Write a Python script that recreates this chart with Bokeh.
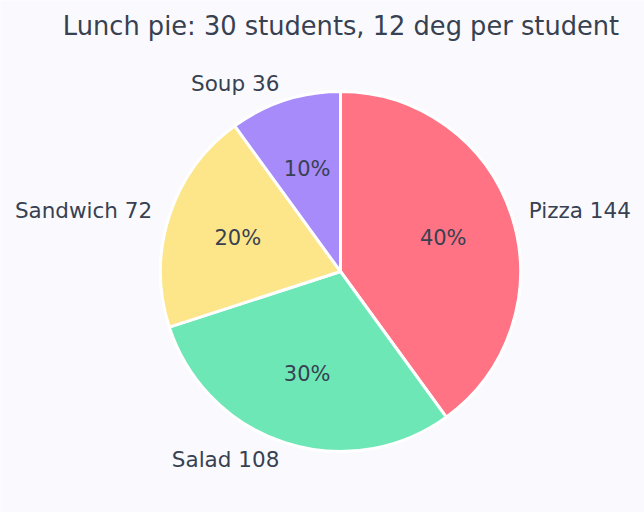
import math
from bokeh.plotting import figure
from bokeh.models import Range1d, ColumnDataSource
from bokeh.core.properties import value
from bokeh.embed import file_html
from bokeh.resources import INLINE

# Lunch choices (students * 12 degrees each)
categories = ["Pizza", "Salad", "Sandwich", "Soup"]
degrees = [144, 108, 72, 36]
colors = ["#FF7385", "#6EE7B7", "#FDE68A", "#A78BFA"]

W, H = 644, 512
BG = "#FAFAFE"
TEXT = "#374151"
FONT = "DejaVu Sans"

p = figure(width=W, height=H, output_backend="svg", toolbar_location=None,
           x_range=Range1d(0, W), y_range=Range1d(0, H), min_border=0,
           background_fill_color=BG, border_fill_color=BG)
p.axis.visible = False
p.grid.visible = False
p.outline_line_color = None

cx, cy, r = 340, H - 271, 180
total = sum(degrees)

starts, ends, mids = [], [], []
acc = 0
for v in degrees:
    a0 = 90 - acc * 360 / total
    a1 = a0 - v * 360 / total
    starts.append(math.radians(a0))
    ends.append(math.radians(a1))
    mids.append(math.radians((a0 + a1) / 2))
    acc += v

src = ColumnDataSource(dict(start=starts, end=ends, color=colors))
p.wedge(x=cx, y=cy, radius=r, start_angle="start", end_angle="end",
        direction="clock", fill_color="color", line_color="white",
        line_width=3, source=src)

# outer category labels
for cat, v, m in zip(categories, degrees, mids):
    lx = cx + 1.1 * r * math.cos(m)
    ly = cy + 1.1 * r * math.sin(m)
    p.text(x=[lx], y=[ly], text=[f"{cat} {v}"], text_font=value(FONT),
           text_font_size="21.5px", text_color=TEXT,
           text_align="left" if math.cos(m) > 0 else "right",
           text_baseline="middle")

# percentage labels inside the wedges
for v, m in zip(degrees, mids):
    px_ = cx + 0.6 * r * math.cos(m)
    py_ = cy + 0.6 * r * math.sin(m)
    p.text(x=[px_], y=[py_], text=[f"{v / total * 100:.0f}%"],
           text_font=value(FONT), text_font_size="21px", text_color=TEXT,
           text_align="center", text_baseline="middle")

p.text(x=[340.5], y=[H - 25], text=["Lunch pie: 30 students, 12 deg per student"],
       text_font=value(FONT), text_font_size="25.7px", text_color=TEXT,
       text_align="center", text_baseline="middle")

open("out.html", "w").write(file_html(p, INLINE))
